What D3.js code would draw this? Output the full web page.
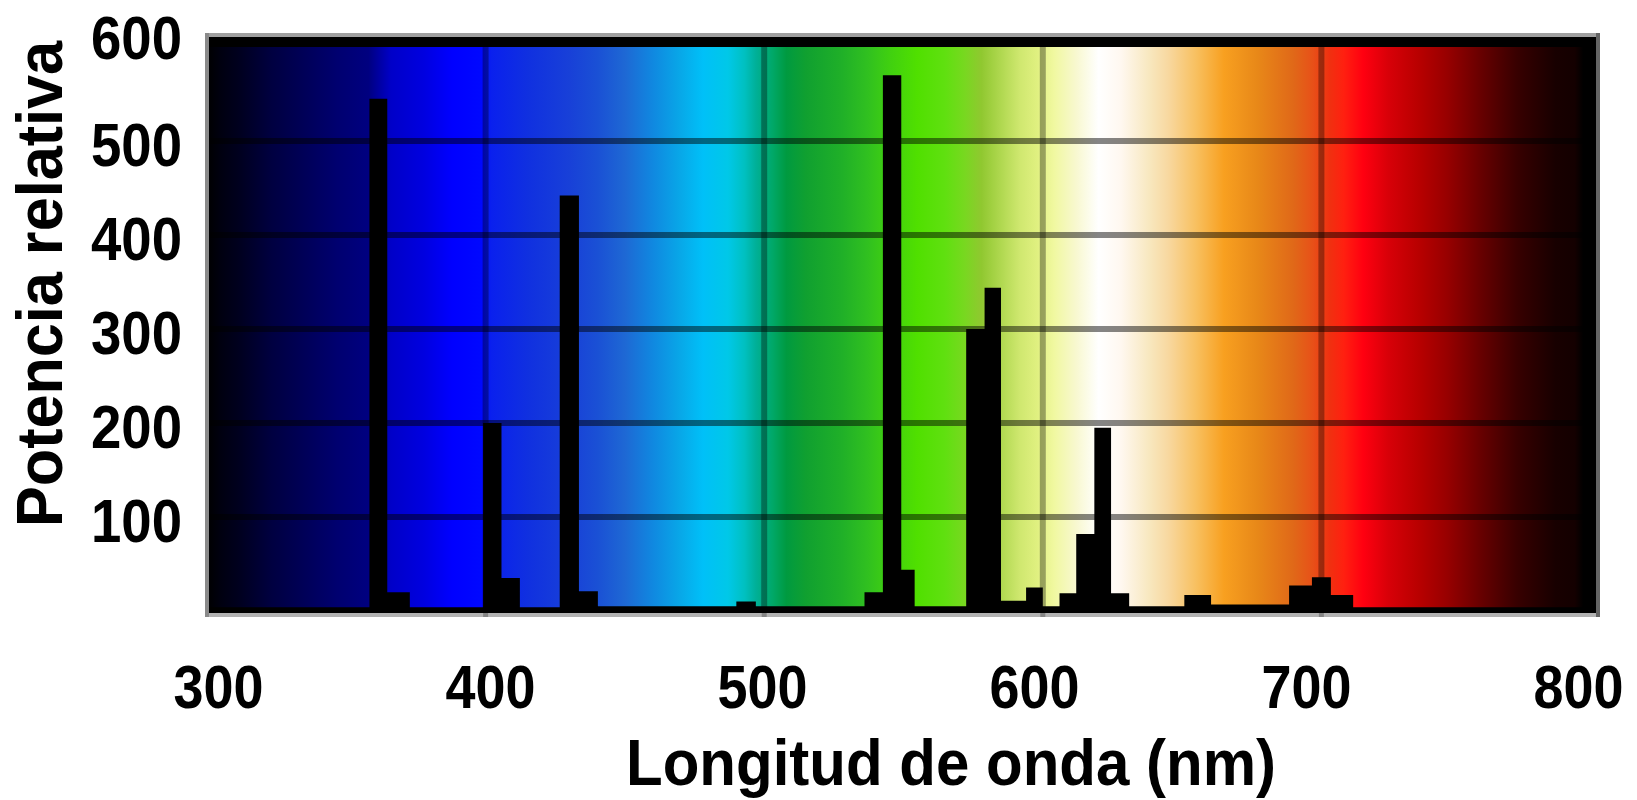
<!DOCTYPE html>
<html>
<head>
<meta charset="utf-8">
<script src="https://cdn.jsdelivr.net/npm/d3@7/dist/d3.min.js"></script>
<style>
  body { margin: 0; background: #fff; }
  svg text { font-family: "Liberation Sans", Arial, sans-serif; font-weight: bold; fill: #000; }
</style>
</head>
<body>
<svg id="chart" width="1637" height="800"></svg>
<script>
// emission spectrum as steps: segment i starts at wlStart[i] nm with height power[i]
const wlStart = [300, 358.3, 364.7, 372.8, 399.1, 405.7, 412.3, 426.6, 433.5, 440.3,
                 490, 497, 536, 542.6, 549.2, 554, 572.5, 579.1, 585, 594,
                 600, 606, 612, 618.5, 624.5, 631, 650.8, 660.4, 688.4, 696.6,
                 703.4, 711.4];
const power   = [4, 545, 20, 4, 200, 35, 4, 442, 21, 5,
                 10, 5, 20, 570, 44, 5, 300, 344, 11, 25,
                 5, 19, 82, 195, 19, 5, 17, 7, 27, 36,
                 17, 4];

// background rainbow (nm -> colour)
const bandNm = [300, 305, 312, 323, 335, 347, 358, 366, 378, 388, 399, 402, 415, 430, 440,
                450, 460, 470, 478, 487, 493, 497, 503, 508, 515, 528, 537, 545, 555, 565,
                572, 578, 585, 592, 598, 604, 612, 620, 628, 638, 645, 655, 665, 677, 690,
                697, 703, 708, 715, 724, 735, 745, 757, 770, 784, 791, 794, 800];
const bandColor = ["#000000", "#000010", "#000020", "#000040", "#000058", "#000070", "#000080",
                   "#0000c8", "#0000e0", "#0000ff", "#0008ff", "#0a20ee", "#1030e0", "#1840d8",
                   "#1a50d5", "#1e68d4", "#1088e0", "#08a8e8", "#00c0f8", "#00c8e8", "#00c0c0",
                   "#00b098", "#00a868", "#009a40", "#10a030", "#20b028", "#30c020", "#40d010",
                   "#50e000", "#60e010", "#78d820", "#90c830", "#b0d850", "#d0e870", "#e0f080",
                   "#f0f8a0", "#f8f8d0", "#ffffff", "#fff8f0", "#f8e8c0", "#f8d8a0", "#f8c060",
                   "#f8a020", "#e88818", "#e06818", "#e85018", "#f03010", "#ff2010", "#ff0010",
                   "#d80008", "#b80000", "#980000", "#680000", "#380000", "#180000", "#140000",
                   "#000000", "#000000"];

const xTicks = [300, 400, 500, 600, 700, 800];
const yTicks = [100, 200, 300, 400, 500, 600];

const svg = d3.select("#chart");

const x = d3.scaleLinear().domain([300, 800]).range([207, 1600]);
const y = d3.scaleLinear().domain([0, 600]).range([611, 47]);
// the tick labels sit slightly inside the plot ends
const xLabel = d3.scaleLinear().domain([300, 800]).range([218, 1578]);

// gradient
const grad = svg.append("defs").append("linearGradient")
    .attr("id", "spectrum")
    .attr("gradientUnits", "userSpaceOnUse")
    .attr("x1", x(300)).attr("x2", x(800))
    .attr("y1", 0).attr("y2", 0);
grad.selectAll("stop")
    .data(bandNm)
    .join("stop")
    .attr("offset", d => (d - 300) / 500)
    .attr("stop-color", (d, i) => bandColor[i]);

// black plot background
svg.append("rect")
    .attr("x", 207).attr("y", 35)
    .attr("width", 1598 - 207).attr("height", 615 - 35)
    .attr("fill", "#000");

svg.append("rect")
    .attr("x", x(300)).attr("y", y(600))
    .attr("width", x(800) - x(300)).attr("height", y(0) - y(600))
    .attr("fill", "url(#spectrum)");

// grid
svg.selectAll(".hgrid")
    .data(yTicks.filter(d => d < 600))
    .join("line")
    .attr("class", "hgrid")
    .attr("x1", x(300)).attr("x2", x(800))
    .attr("y1", d => y(d)).attr("y2", d => y(d))
    .attr("stroke", "#000").attr("stroke-opacity", 0.48)
    .attr("stroke-width", 6);

svg.selectAll(".vgrid")
    .data(xTicks.filter(d => d > 300 && d < 800))
    .join("line")
    .attr("class", "vgrid")
    .attr("x1", d => x(d)).attr("x2", d => x(d))
    .attr("y1", y(600)).attr("y2", 617)
    .attr("stroke", "#000").attr("stroke-opacity", 0.34)
    .attr("stroke-width", 6);

// spectrum
const pts = wlStart.map((w, i) => ({ nm: w, p: power[i] }));
pts.push({ nm: 800, p: power[power.length - 1] });

const area = d3.area()
    .x(d => x(d.nm))
    .y0(y(0))
    .y1(d => y(d.p))
    .curve(d3.curveStepAfter);

svg.append("path")
    .datum(pts)
    .attr("d", area)
    .attr("fill", "#000");

// frame
const frame = svg.append("g");
frame.append("line").attr("x1", 205).attr("x2", 1600).attr("y1", 35).attr("y2", 35)
    .attr("stroke", "#a0a0a0").attr("stroke-width", 4);
frame.append("line").attr("x1", 205).attr("x2", 1600).attr("y1", 615).attr("y2", 615)
    .attr("stroke", "#b2b2b2").attr("stroke-width", 4);
frame.append("line").attr("x1", 207).attr("x2", 207).attr("y1", 33).attr("y2", 617)
    .attr("stroke", "#8a8a8a").attr("stroke-width", 4);
frame.append("line").attr("x1", 1598).attr("x2", 1598).attr("y1", 33).attr("y2", 617)
    .attr("stroke", "#646464").attr("stroke-width", 4);
// keep the grid ticks visible on the bottom border
svg.selectAll(".vtick")
    .data(xTicks.filter(d => d > 300 && d < 800))
    .join("line")
    .attr("x1", d => x(d)).attr("x2", d => x(d))
    .attr("y1", 613).attr("y2", 617)
    .attr("stroke", "#000").attr("stroke-opacity", 0.25)
    .attr("stroke-width", 5);

// axes
const xAxis = svg.append("g")
    .attr("transform", "translate(0,708)")
    .call(d3.axisBottom(xLabel).tickValues(xTicks).tickSize(0).tickFormat(d3.format("d")));
xAxis.select(".domain").remove();
xAxis.selectAll("text")
    .attr("y", 0).attr("dy", 0)
    .attr("font-size", 61)
    .attr("textLength", 90)
    .attr("lengthAdjust", "spacingAndGlyphs");

const yAxis = svg.append("g")
    .attr("transform", "translate(182,0)")
    .call(d3.axisLeft(y).tickValues(yTicks).tickSize(0).tickPadding(0).tickFormat(d3.format("d")));
yAxis.select(".domain").remove();
yAxis.selectAll(".tick")
    .attr("transform", d => `translate(0,${d === 600 ? 37 : y(d) + 3})`);
yAxis.selectAll("text")
    .attr("x", 0).attr("dy", 22)
    .attr("font-size", 61)
    .attr("textLength", 91)
    .attr("lengthAdjust", "spacingAndGlyphs");

svg.append("text")
    .attr("x", 951).attr("y", 785)
    .attr("text-anchor", "middle")
    .attr("font-size", 64)
    .attr("textLength", 650)
    .attr("lengthAdjust", "spacingAndGlyphs")
    .text("Longitud de onda (nm)");

svg.append("text")
    .attr("transform", "translate(62,284) rotate(-90)")
    .attr("text-anchor", "middle")
    .attr("font-size", 64)
    .attr("textLength", 486)
    .attr("lengthAdjust", "spacingAndGlyphs")
    .text("Potencia relativa");
</script>
</body>
</html>
